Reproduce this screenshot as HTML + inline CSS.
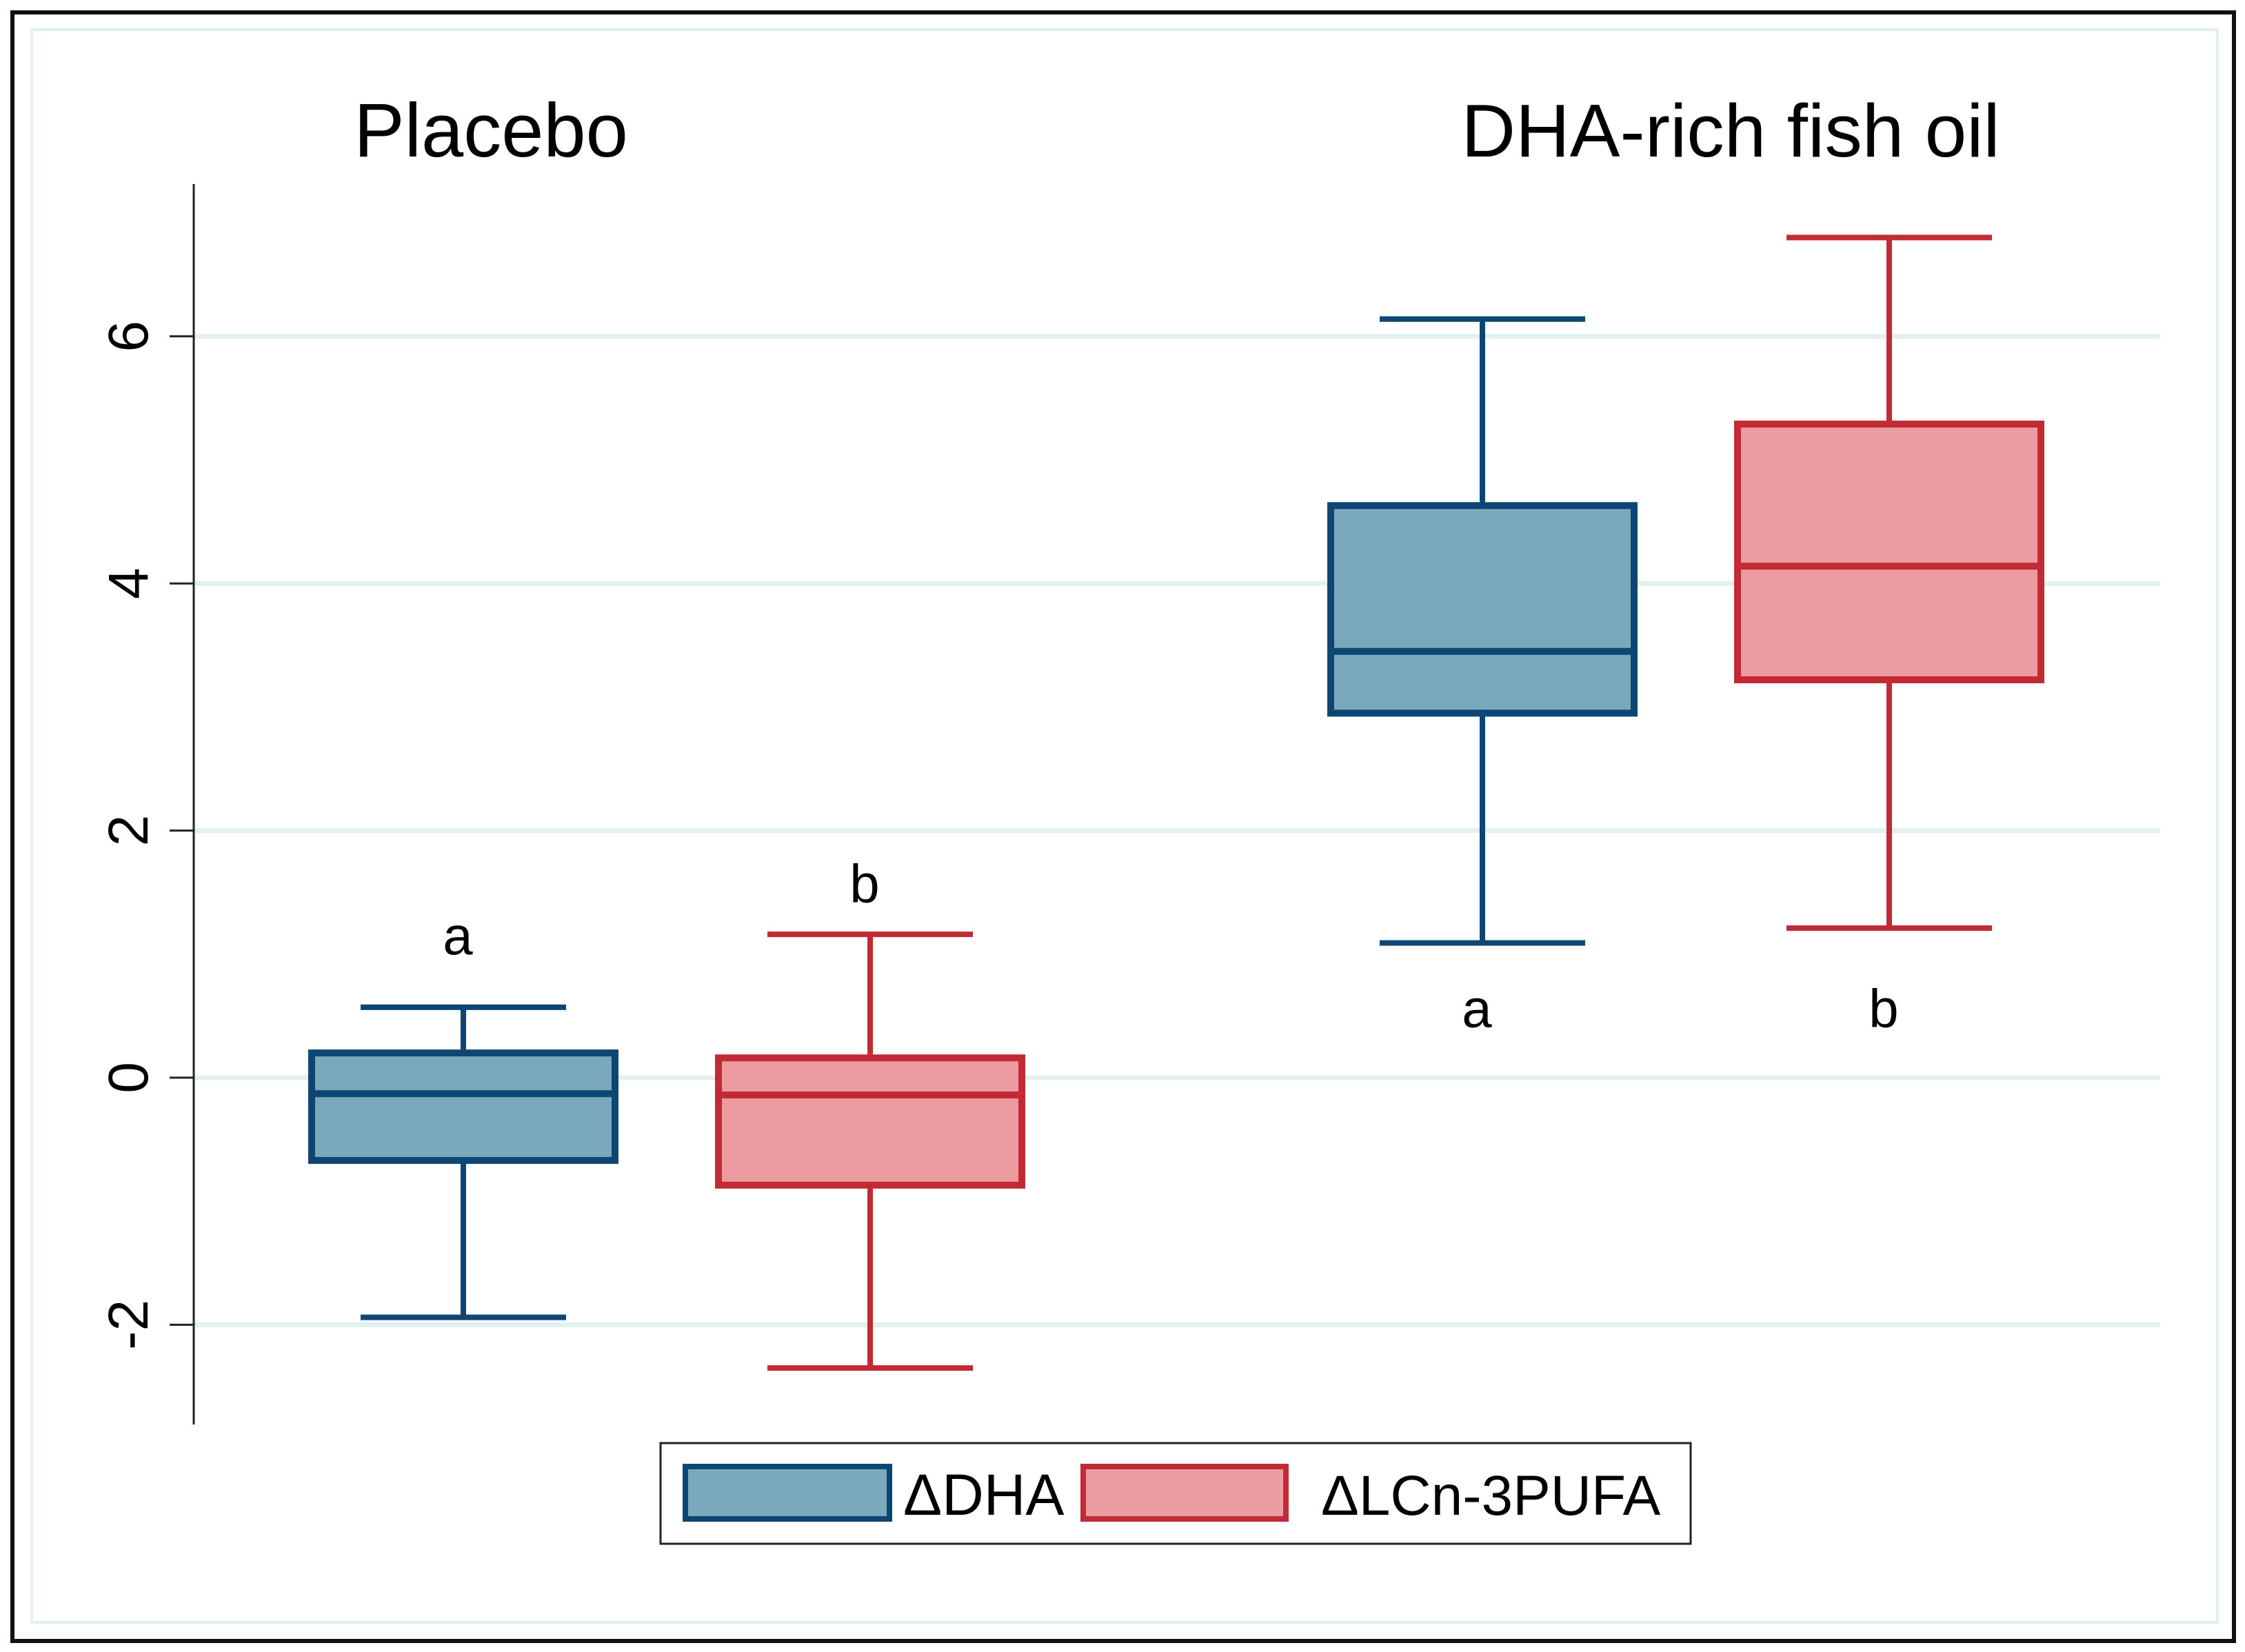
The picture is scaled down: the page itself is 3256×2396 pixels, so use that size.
<!DOCTYPE html>
<html><head><meta charset="utf-8"><style>
html,body{margin:0;padding:0;background:#fff;}
svg{display:block;}
text{font-family:"Liberation Sans",sans-serif;}
</style></head><body>
<svg id="chart" width="3256" height="2396" viewBox="0 0 3256 2396" xmlns="http://www.w3.org/2000/svg">
<rect x="18" y="18" width="3222" height="2362" fill="#fff" stroke="#111" stroke-width="6"/>
<rect x="46" y="43" width="3170" height="2310" fill="none" stroke="#e2f0f1" stroke-width="4"/>
<g id="grid"></g>
<line x1="281" y1="267" x2="281" y2="2066" stroke="#222" stroke-width="3"/>
<g id="ticks"></g>
<text x="712" y="227" font-size="110" text-anchor="middle" fill="#000">Placebo</text>
<text x="2510" y="227" font-size="109" text-anchor="middle" fill="#000">DHA-rich fish oil</text>
<g id="boxes"></g>
<g id="legend">
<rect x="958" y="2093" width="1494" height="146" fill="#fff" stroke="#222" stroke-width="3"/>
<rect x="994" y="2127" width="296" height="76" fill="#7aa8bc" stroke="#0d4673" stroke-width="8"/>
<text x="1310" y="2197" font-size="84" fill="#000">ΔDHA</text>
<rect x="1571" y="2127" width="294" height="76" fill="#ec9ba1" stroke="#c22a36" stroke-width="8"/>
<text x="1916" y="2197" font-size="82" fill="#000">ΔLCn-3PUFA</text>
</g>
</svg>
<script>
const tickValues = [-2, 0, 2, 4, 6];
const tickLabels = ["-2", "0", "2", "4", "6"];
const boxNames = ["placebo-dha", "placebo-lcn3pufa", "fishoil-dha", "fishoil-lcn3pufa"];
const boxCenters = [672, 1262, 2150, 2740];
const whiskerHigh = [0.57, 1.16, 6.14, 6.80];
const q3 = [0.20, 0.16, 4.63, 5.29];
const median = [-0.13, -0.14, 3.45, 4.14];
const q1 = [-0.67, -0.87, 2.95, 3.22];
const whiskerLow = [-1.94, -2.35, 1.09, 1.21];
const letters = ["a", "b", "a", "b"];
const letterValue = [1.0, 1.42, 0.41, 0.41];
const series = [0, 1, 0, 1];

const NS = "http://www.w3.org/2000/svg";
function y(v){ return 1563 - 179.2 * v; }
function mk(tag, attrs, parent){ const e = document.createElementNS(NS, tag); for (const k in attrs) e.setAttribute(k, attrs[k]); parent.appendChild(e); return e; }
const strokeC = ["#0d4673", "#c22a36"], fillC = ["#7aa8bc", "#ec9ba1"];
const grid = document.getElementById("grid"), ticks = document.getElementById("ticks"), boxes = document.getElementById("boxes");
tickValues.forEach((v, i) => {
  const g = mk("line", {x1: 281, x2: 3133, y1: y(v), y2: y(v), stroke: "#e2f0f1", "stroke-width": 7}, grid);
  
  
  const t = mk("line", {x1: 246, x2: 281, y1: y(v), y2: y(v), stroke: "#222", "stroke-width": 3}, ticks);
  
  
  const l = mk("text", {x: 0, y: 0, "font-size": 82, "text-anchor": "middle", fill: "#000", transform: "translate(214," + y(v) + ") rotate(-90)"}, ticks);
  l.textContent = tickLabels[i];
  
  
});
boxCenters.forEach((cx, i) => {
  const s = series[i], sc = strokeC[s];
  const g = mk("g", {}, boxes);
  
  
  mk("line", {x1: cx, x2: cx, y1: y(whiskerHigh[i]), y2: y(whiskerLow[i]), stroke: sc, "stroke-width": 8}, g);
  mk("line", {x1: cx - 149, x2: cx + 149, y1: y(whiskerHigh[i]), y2: y(whiskerHigh[i]), stroke: sc, "stroke-width": 8}, g);
  mk("line", {x1: cx - 149, x2: cx + 149, y1: y(whiskerLow[i]), y2: y(whiskerLow[i]), stroke: sc, "stroke-width": 8}, g);
  mk("rect", {x: cx - 220, y: y(q3[i]), width: 440, height: y(q1[i]) - y(q3[i]), fill: fillC[s], stroke: sc, "stroke-width": 10}, g);
  mk("line", {x1: cx - 220, x2: cx + 220, y1: y(median[i]), y2: y(median[i]), stroke: sc, "stroke-width": 10}, g);
  const t = mk("text", {x: cx - 8, y: y(letterValue[i]), "font-size": 78, "text-anchor": "middle", fill: "#000"}, boxes);
  t.textContent = letters[i];
  
  
});
</script>
</body></html>
